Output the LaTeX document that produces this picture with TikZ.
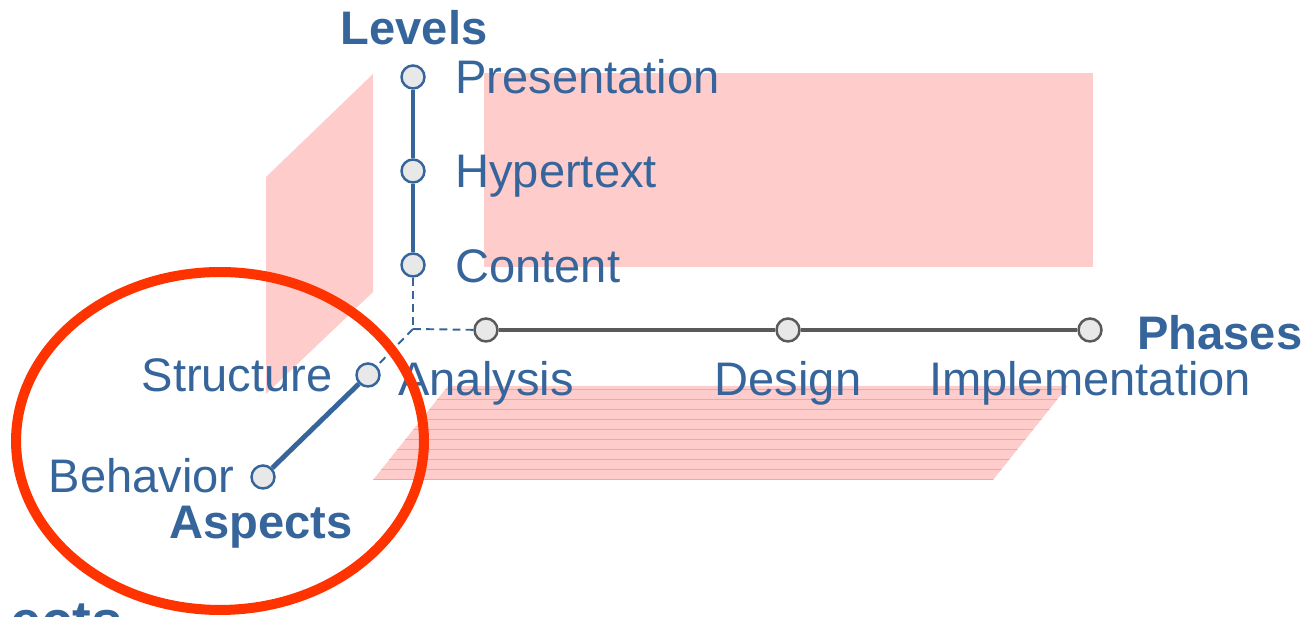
\documentclass[tikz,border=0pt]{standalone}
\usepackage{fontspec}
\setmainfont{Liberation Sans}
\usetikzlibrary{positioning}
\definecolor{dim-blue}{RGB}{54,101,155}
\definecolor{dim-grey}{RGB}{90,90,90}
\definecolor{dot-fill}{RGB}{232,232,232}
\definecolor{plane-pink}{RGB}{255,204,204}
\definecolor{plane-line}{RGB}{244,166,166}
\definecolor{mark-red}{RGB}{255,51,0}
\tikzstyle{plane}=[fill=plane-pink]
\tikzstyle{dot}=[circle,draw=dim-blue,fill=dot-fill,line width=1.4pt,minimum size=0.46cm,inner sep=0pt]
\tikzstyle{gdot}=[dot,draw=dim-grey]
\tikzstyle{axis}=[draw=dim-blue,line width=2.8pt]
\tikzstyle{gaxis}=[axis,draw=dim-grey]
\tikzstyle{hidden}=[draw=dim-blue,line width=1.1pt,dash pattern=on 4.5pt off 3pt]
\tikzstyle{lbl}=[text=dim-blue,inner sep=0pt,font=\fontsize{26.8}{30}\selectfont]
\tikzstyle{dimname}=[lbl,font=\fontsize{26.8}{30}\selectfont\bfseries]

\begin{document}
\begin{tikzpicture}[x=0.02cm,y=-0.02cm]
  \useasboundingbox (0,0) rectangle (1306,617);

  % planes
  \fill[plane] (484,73) rectangle (1093,267);
  \fill[plane] (266,177) -- (373,74) -- (373,292) -- (266,394) -- cycle;
  \fill[plane] (373,480) -- (448,386) -- (1068,386) -- (993,480) -- cycle;
  \begin{scope}
    \clip (373,480) -- (448,386) -- (1068,386) -- (993,480) -- cycle;
    \foreach \y in {389,399,...,479}
      \draw[plane-line,line width=0.5pt] (370,\y) -- (1070,\y);
  \end{scope}

  \coordinate (origin) at (413,329);

  % levels
  \node[dot] at (413,77) (pres) {};
  \node[dot] at (413,171) (hyp) {};
  \node[dot] at (413,265) (cont) {};
  \draw[axis] (pres) -- (hyp) -- (cont);

  % phases
  \node[gdot] at (486,330) (ana) {};
  \node[gdot] at (788,330) (des) {};
  \node[gdot] at (1090,330) (impl) {};
  \draw[gaxis] (ana) -- (des) -- (impl);

  % aspects
  \node[dot] at (368,375) (struct) {};
  \node[dot] at (263,477) (behav) {};
  \draw[axis] (struct) -- (behav);

  \draw[hidden] (cont) -- (origin);
  \draw[hidden] (origin) -- (ana);
  \draw[hidden] (origin) -- (struct);

  \node[dimname,anchor=base] at (414,45) (levels) {Levels};
  \node[lbl,anchor=base west] at (455,94) (presl) {Presentation};
  \node[lbl,anchor=base west] at (455,188) (hypl) {Hypertext};
  \node[lbl,anchor=base west] at (455,283) (contl) {Content};

  \node[dimname,anchor=base west] at (1137,350) (phases) {Phases};
  \node[lbl,anchor=base] at (ana|-0,396) (anal) {Analysis};
  \node[lbl,anchor=base] at (des|-0,396) (desl) {Design};
  \node[lbl,anchor=base] at (impl|-0,396) (impll) {Implementation};

  \node[lbl,anchor=base east] at (333,392) (structl) {Structure};
  \node[lbl,anchor=base east] at (235,493) (behavl) {Behavior};
  \node[dimname,anchor=base] at (261,539) (aspects) {Aspects};

  \node[dimname,font=\fontsize{32}{36}\selectfont\bfseries,anchor=base west] at (10,641) (cut) {ects};

  \draw[mark-red,line width=5.7pt] (220,441) ellipse [x radius=4.08cm,y radius=3.38cm];
\end{tikzpicture}
\end{document}
